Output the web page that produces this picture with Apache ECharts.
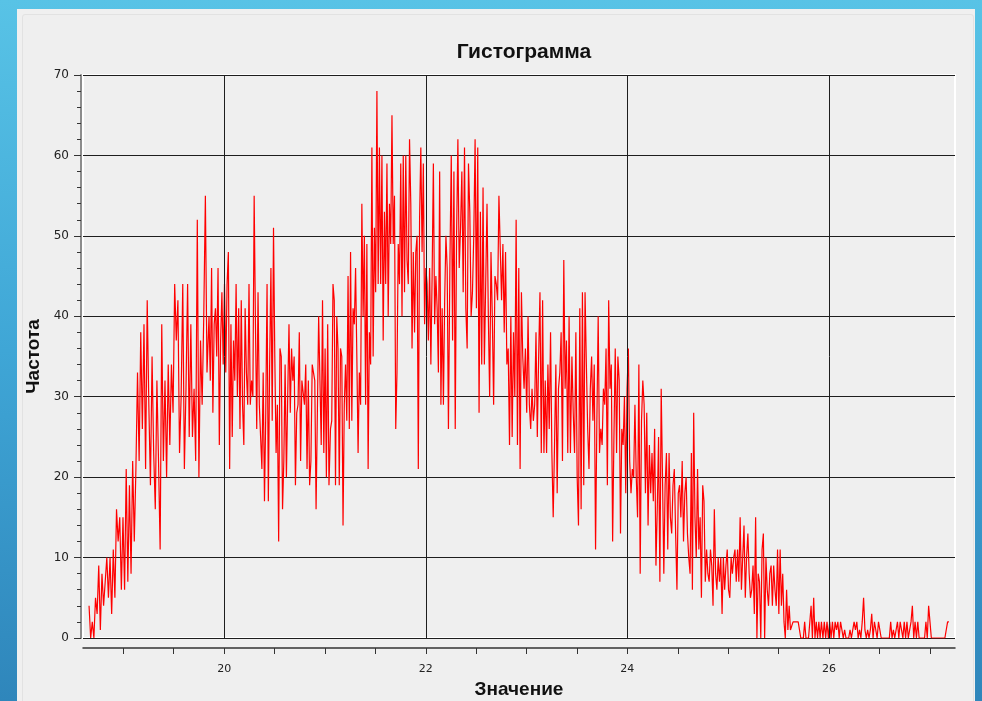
<!DOCTYPE html>
<html>
<head>
<meta charset="utf-8">
<script src="https://cdn.jsdelivr.net/npm/echarts@6/dist/echarts.min.js"></script>
<style>
html,body{margin:0;padding:0;}
body{width:982px;height:701px;overflow:hidden;position:relative;background:linear-gradient(to bottom,#58c3e6 0%,#3fa6d6 50%,#2f86bb 100%);}
#panel{position:absolute;left:17px;top:9px;width:958px;height:692px;background:#f0f0f0;}
#inner{position:absolute;left:22px;top:14px;width:950px;height:690px;border:1px solid #e2e2e2;border-radius:3px;background:#efefef;}
#chart{position:absolute;left:0;top:0;width:982px;height:701px;}
</style>
</head>
<body>
<div id="panel"></div>
<div id="inner"></div>
<div id="chart"></div>
<script>
// ---- data (counts per bin) ----
const titleText = 'Гистограмма';
const xName = 'Значение';
const yName = 'Частота';
const xTickValues = [19,19.5,20,20.5,21,21.5,22,22.5,23,23.5,24,24.5,25,25.5,26,26.5,27];
const xLabelValues = [20,22,24,26];
const xGridValues = [20,22,24,26];

// segment x-ranges (value units) and the counts read within each
const segARange = [18.66, 19.83];
const segA = [4,0,2,0,5,3,9,1,8,4,7,10,5,10,3,11,5,16,12,15,6,15,6,21,7,19,8,22,12,21,33,22,38,26,39,21,42,29,19,35,23,16,32,22,11,39,22,32,20,34,24,34,28,44,37,42,23,30,44,21,31,44,25,39,25,31,22,52,20,37,29,40,55,33];
const segBRange = [19.85, 21.04];
const segB = [40,32,46,28,39,41,35,46,24,37,43,34,44,33,44,48,21,39,25,37,32,44,30,41,26,42,29,24,41,33,29,44,29,32,30,55,39,26,43,29,25,21,33,17,28,44,17,34,46,27,51,35,23,29,12,36,35,16,22,34,20,30,39,28,36,32,35,19,28,29,38,22,32,32,29,34,21,32,19,22,34,33,32,16,28,40,32,24,42,23,36,20,39,19];
const segCRange = [21.055, 22.225];
const segC = [26,27,44,42,19,40,36,19,36,35,14,29,34,27,45,26,48,27,41,39,46,35,23,33,29,54,40,50,29,49,21,38,34,61,35,51,43,68,44,61,44,60,37,53,44,59,40,54,49,65,49,55,26,33,49,44,59,40,60,43,60,47,44,62,54,36,48,38,48,50,21,52,61,48,59,39,46,44,37,46,34,45,59,39,45,41,33,58,29,41,29,42,50,46,26];
const segDRange = [22.24, 23.435];
const segD = [47,60,37,58,26,50,62,46,51,58,43,61,41,36,59,53,40,43,50,62,41,61,28,53,34,56,34,44,54,40,30,48,40,29,45,44,42,55,55,42,49,38,48,34,36,24,40,25,38,30,52,24,46,21,43,35,31,36,28,40,29,26,31,27,29,38,25,35,43,23,42,23,32,23,34,26,38,23,15,24,34,18,31,33,38,22,47,31,37,23,40,23];
const segERange = [23.45, 24.635];
const segE = [35,28,23,38,20,14,41,16,43,19,43,34,26,21,31,35,27,34,11,27,40,23,26,24,31,29,36,19,42,31,34,12,25,36,23,35,32,13,26,24,30,18,31,36,22,18,21,20,29,20,15,34,8,27,32,29,18,28,14,24,18,23,17,26,9,16,25,7,31,20,8,19,23,11,23,15,13,19,21,13,6,18,19,15,22,12,18,20,13,10,8,23];
const segFRange = [24.645, 25.925];
const segF = [6,28,15,10,21,11,15,5,19,17,7,11,8,7,11,9,4,16,8,6,10,7,10,3,10,6,9,11,6,5,10,8,10,11,7,11,7,15,6,10,14,5,10,13,8,5,6,9,3,15,0,8,7,0,11,13,0,10,6,4,8,9,4,9,6,4,11,3,11,4,8,2,0,6,1,4,1,1,2,2,2,2,2,2,0,0,0,2,0,0,0,0,4,0,5,0,2,0,2,0,2];
const segGRange = [25.94, 27.19];
const segG = [0,2,0,2,0,2,0,2,0,2,1,2,0,2,1,0,1,0,0,0,1,0,1,2,1,2,0,1,0,2,5,1,0,1,0,1,3,0,2,2,0,2,2,0,0,0,0,0,0,0,2,0,1,0,0,2,0,2,2,0,2,0,2,0,1,2,4,0,2,0,2,0,0,0,0,0,2,0,4,2,0,0,0,0,0,0,0,0,0,0,0,0,2,2];

// ---- build series (bins evenly spaced within each read segment) ----
const segments = [[segARange,segA],[segBRange,segB],[segCRange,segC],[segDRange,segD],[segERange,segE],[segFRange,segF],[segGRange,segG]];
const seriesData = [];
segments.forEach(([r, vals]) => {
  const n = vals.length;
  vals.forEach((v, i) => {
    seriesData.push([r[0] + (r[1] - r[0]) * i / (n - 1), v]);
  });
});

const xMin = 18.6, xMax = 27.25;
const chart = echarts.init(document.getElementById('chart'), null, {renderer:'canvas'});
const font = 'DejaVu Sans';
chart.setOption({
  animation: false,
  backgroundColor: 'transparent',
  title: {
    text: titleText,
    left: 519, top: 37, textAlign: 'center',
    textStyle: {fontFamily: 'Liberation Sans', fontWeight: 'bold', fontSize: 21, color: '#111'}
  },
  grid: [{
    left: 83, right: 27, top: 75, bottom: 63,
    outerBoundsMode: 'none', containLabel: false,
    show: true, backgroundColor: '#efefef', borderColor: '#ffffff', borderWidth: 2
  }, {
    left: 83, right: 27, top: 647, height: 1,
    outerBoundsMode: 'none', containLabel: false, show: false
  }],
  xAxis: [{
    gridIndex: 0, type: 'value', min: xMin, max: xMax,
    axisLine: {show: false}, axisTick: {show: false}, axisLabel: {show: false},
    splitLine: {show: false}
  }, {
    gridIndex: 1, type: 'value', min: xMin, max: xMax, position: 'bottom',
    name: xName, nameLocation: 'middle', nameGap: 32,
    nameTextStyle: {fontFamily: 'Liberation Sans', fontWeight: 'bold', fontSize: 19, color: '#111'},
    axisLine: {show: true, lineStyle: {color: '#333', width: 1.5}},
    axisTick: {show: true, length: 6, customValues: xTickValues, lineStyle: {color: '#333', width: 1}},
    axisLabel: {customValues: xLabelValues, margin: 16, fontFamily: font, fontSize: 11, color: '#222'},
    splitLine: {show: false}
  }],
  yAxis: [{
    gridIndex: 0, type: 'value', min: 0, max: 70, interval: 10, offset: 2,
    name: yName, nameLocation: 'middle', nameGap: 30, nameRotate: 90,
    nameTextStyle: {fontFamily: 'Liberation Sans', fontWeight: 'bold', fontSize: 19, color: '#111'},
    axisLine: {show: true, lineStyle: {color: '#8c8c8c', width: 2}},
    axisTick: {show: true, length: 7, lineStyle: {color: '#333'}},
    minorTick: {show: true, splitNumber: 5, length: 4, lineStyle: {color: '#333'}},
    axisLabel: {margin: 12, fontFamily: font, fontSize: 12, color: '#222'},
    splitLine: {show: true, lineStyle: {color: '#1e1e1e', width: 1}}
  }, {
    gridIndex: 1, type: 'value', min: 0, max: 1, show: false
  }],
  series: [{
    type: 'line',
    xAxisIndex: 0, yAxisIndex: 0,
    data: seriesData,
    showSymbol: false,
    lineStyle: {color: '#ff0000', width: 1.2},
    itemStyle: {color: '#ff0000'},
    z: 3,
    markLine: {
      silent: true, symbol: 'none', label: {show: false},
      lineStyle: {color: '#1e1e1e', width: 1, type: 'solid'},
      data: xGridValues.map(v => ({xAxis: v}))
    }
  }]
});
</script>
</body>
</html>
